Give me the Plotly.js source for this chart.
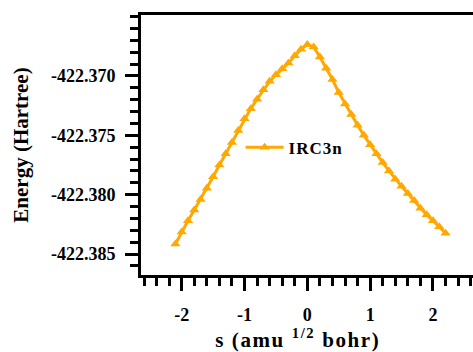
<!DOCTYPE html>
<html>
<head>
<meta charset="utf-8">
<script src="https://cdn.plot.ly/plotly-3.0.1.min.js"></script>
<style>
  html, body { margin: 0; padding: 0; background: #fff; overflow: hidden; }
  #chart { width: 473px; height: 352px; }
  /* slightly tracked lettering for the axis caption and legend entry */
  #chart .annotation-text { letter-spacing: 1.6px; }
  #chart .legendtext { letter-spacing: 1px; }
</style>
</head>
<body>
<div id="chart"></div>
<script>
// Reaction coordinate along the IRC path (amu^1/2 bohr)
const sCoord = [
  -2.1, -2.0, -1.9, -1.8, -1.7, -1.6, -1.5, -1.4, -1.3, -1.2, -1.1,
  -1.0, -0.9, -0.8, -0.7, -0.6, -0.5, -0.4, -0.3, -0.2, -0.1,
   0.0,
   0.1,  0.2,  0.3,  0.4,  0.5,  0.6,  0.7,  0.8,  0.9,  1.0,
   1.1,  1.2,  1.3,  1.4,  1.5,  1.6,  1.7,  1.8,  1.9,  2.0,
   2.1,  2.2
];

// Total energy at each point (Hartree)
const energy = [
  -422.38415, -422.38315, -422.38220, -422.38130, -422.38040, -422.37945,
  -422.37850, -422.37750, -422.37655, -422.37560, -422.37460,
  -422.37360, -422.37275, -422.37195, -422.37115, -422.37045, -422.36990,
  -422.36940, -422.36890, -422.36830, -422.36775,
  -422.36735,
  -422.36755, -422.36840, -422.36935, -422.37030, -422.37140, -422.37235,
  -422.37325, -422.37415, -422.37500, -422.37580,
  -422.37655, -422.37730, -422.37800, -422.37870, -422.37930, -422.37990,
  -422.38050, -422.38115, -422.38170, -422.38220,
  -422.38270, -422.38325
];

const seriesName = 'IRC3n';
const yTicks = [-422.385, -422.380, -422.375, -422.370];
const yTickText = ['-422.385', '-422.380', '-422.375', '-422.370'];
const xTicks = [-2, -1, 0, 1, 2];
const xTickText = ['-2', '-1', '0', '1', '2'];

const orange = 'rgb(255,168,0)';
const serif = "'Liberation Serif', 'Times New Roman', serif";

function boldSerif(size) {
  return { family: serif, size: size, color: '#000', weight: 'bold' };
}

const trace = {
  x: sCoord,
  y: energy,
  name: seriesName,
  type: 'scatter',
  mode: 'lines+markers',
  line: { color: orange, width: 3 },
  marker: { symbol: 'triangle-up', size: 9, color: orange }
};

const minorTicks = (step, start) => ({
  dtick: step, tick0: start, ticks: 'outside', ticklen: 8, tickwidth: 3,
  tickcolor: '#000', showgrid: false
});

const layout = {
  width: 473,
  height: 352,
  margin: { l: 141, r: 0, t: 15, b: 77 },
  paper_bgcolor: '#fff',
  plot_bgcolor: '#fff',
  showlegend: true,
  legend: {
    x: 0.30, y: 0.49, xanchor: 'left', yanchor: 'middle',
    itemwidth: 38,
    bgcolor: 'rgba(0,0,0,0)',
    font: boldSerif(17)
  },
  xaxis: {
    range: [-2.648, 2.637],
    showgrid: false, zeroline: false,
    showline: true, linecolor: '#000', linewidth: 3, mirror: true,
    ticks: 'outside', ticklen: 13, tickwidth: 3, tickcolor: '#000',
    tickvals: xTicks,
    ticktext: xTickText,
    tickfont: boldSerif(18),
    ticklabelstandoff: 8,
    minor: minorTicks(0.2, 0)
  },
  yaxis: {
    range: [-422.38677, -422.36486],
    showgrid: false, zeroline: false,
    showline: true, linecolor: '#000', linewidth: 3,
    ticks: 'outside', ticklen: 13, tickwidth: 3, tickcolor: '#000',
    tickvals: yTicks,
    ticktext: yTickText,
    tickfont: boldSerif(18),
    ticklabelstandoff: 6,
    minor: minorTicks(0.001, -422.385),
    title: {
      text: 'Energy (Hartree)',
      standoff: 17,
      font: boldSerif(21)
    }
  },
  annotations: [{
    text: 's (amu <sup>1/2</sup> bohr)',
    xref: 'paper', yref: 'paper',
    x: 0.474, y: -0.183,
    xanchor: 'center', yanchor: 'top',
    showarrow: false,
    font: boldSerif(21)
  }]
};

Plotly.newPlot('chart', [trace], layout, { displayModeBar: false, staticPlot: true });
</script>
</body>
</html>
